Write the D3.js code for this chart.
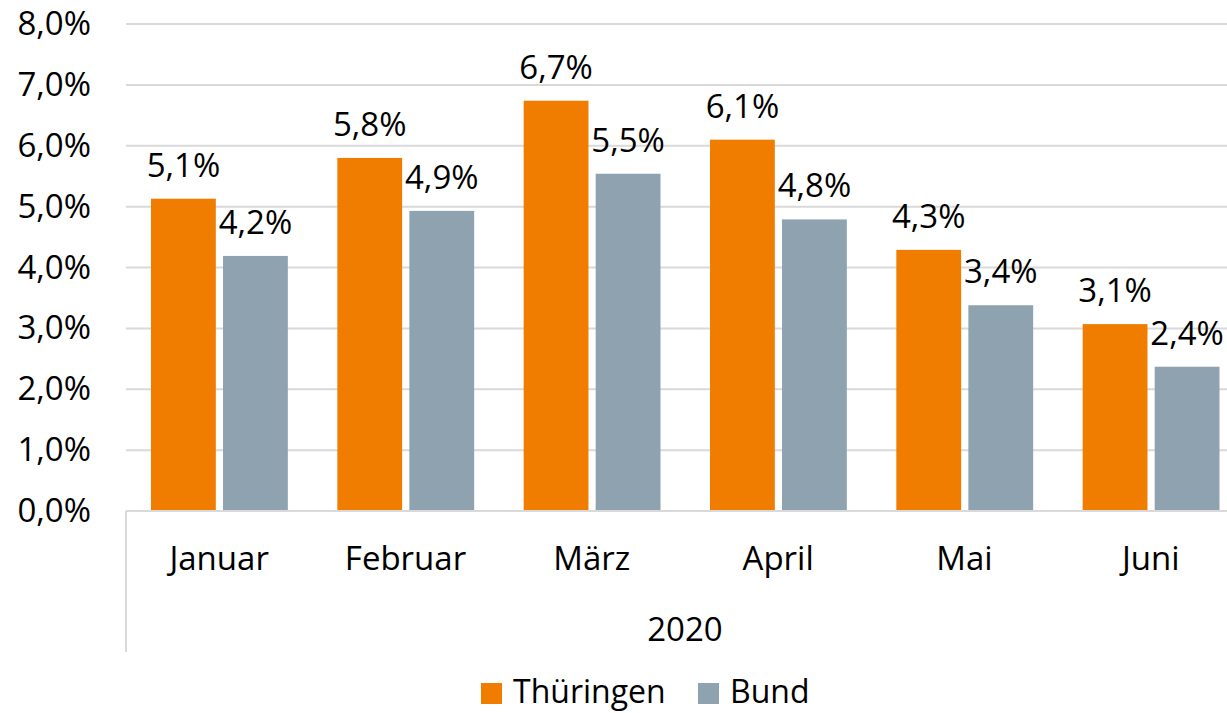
<!DOCTYPE html>
<html>
<head>
<meta charset="utf-8">
<script src="https://cdn.jsdelivr.net/npm/d3@7"></script>
<style>
  body { margin: 0; background: #fff; }
  text { font-family: "Open Sans", "Noto Sans", sans-serif; fill: #000; }
</style>
</head>
<body>
<div id="chart"></div>
<script>
// data
var months = ["Januar", "Februar", "März", "April", "Mai", "Juni"];
var seriesNames = ["Thüringen", "Bund"];
var thueringen = [5.13, 5.8, 6.74, 6.1, 4.29, 3.07];
var bund = [4.19, 4.93, 5.54, 4.79, 3.38, 2.37];
var yTicks = [0, 1, 2, 3, 4, 5, 6, 7, 8];
var yearLabel = "2020";

var colors = { "Thüringen": "#F07D00", "Bund": "#8EA3AF" };

var W = 1227, H = 713;
var margin = { left: 126, top: 24, right: -17, bottom: 202 };
var width = W - margin.left - margin.right,
    height = H - margin.top - margin.bottom;

var fmt = function(v) { return v.toFixed(1).replace(".", ",") + "%"; };

var svg = d3.select("#chart").append("svg")
    .attr("width", W)
    .attr("height", H);

var g = svg.append("g")
    .attr("transform", "translate(" + margin.left + "," + margin.top + ")");

var x0 = d3.scaleBand()
    .domain(months)
    .range([0, width])
    .paddingInner(0)
    .paddingOuter(0);

var x1 = d3.scaleBand()
    .domain(seriesNames)
    .range([25, x0.bandwidth() - 24.5])
    .paddingInner(0.1);

var y = d3.scaleLinear()
    .domain([0, 8])
    .range([height, 0]);

// gridlines
g.append("g")
  .selectAll("line")
  .data(yTicks.slice(1))
  .enter().append("line")
    .attr("x1", 0)
    .attr("x2", width)
    .attr("y1", function(d) { return y(d); })
    .attr("y2", function(d) { return y(d); })
    .attr("stroke", "#D9D9D9")
    .attr("stroke-width", 2);

// y axis labels
var yAxis = g.append("g")
    .call(d3.axisLeft(y).tickValues(yTicks).tickSize(0).tickPadding(35).tickFormat(fmt));
yAxis.select(".domain").remove();
yAxis.selectAll("text")
    .style("font-size", "33px")
    .style("font-family", "'Open Sans', sans-serif");

// build table
var table = months.map(function(m, i) {
  return { month: m, values: [ { key: "Thüringen", v: thueringen[i] }, { key: "Bund", v: bund[i] } ] };
});

var groups = g.selectAll(".grp")
  .data(table)
  .enter().append("g")
    .attr("class", "grp")
    .attr("transform", function(d) { return "translate(" + x0(d.month) + ",0)"; });

groups.selectAll("rect")
  .data(function(d) { return d.values; })
  .enter().append("rect")
    .attr("x", function(d) { return x1(d.key); })
    .attr("y", function(d) { return y(d.v); })
    .attr("width", x1.bandwidth())
    .attr("height", function(d) { return y(0) - y(d.v); })
    .attr("fill", function(d) { return colors[d.key]; });

groups.selectAll(".lbl")
  .data(function(d) { return d.values; })
  .enter().append("text")
    .attr("class", "lbl")
    .attr("x", function(d) { return x1(d.key) + x1.bandwidth() / 2; })
    .attr("y", function(d) { return y(d.v) - 22; })
    .attr("text-anchor", "middle")
    .style("font-size", "33px")
    .text(function(d) { return fmt(d.v); });

// x axis line + left border
g.append("line")
    .attr("x1", 0).attr("x2", width)
    .attr("y1", height).attr("y2", height)
    .attr("stroke", "#D9D9D9").attr("stroke-width", 2);
g.append("line")
    .attr("x1", 0).attr("x2", 0)
    .attr("y1", height).attr("y2", height + 141)
    .attr("stroke", "#D9D9D9").attr("stroke-width", 2);

// month labels
g.selectAll(".mlbl")
  .data(months)
  .enter().append("text")
    .attr("class", "mlbl")
    .attr("x", function(d) { return x0(d) + x0.bandwidth() / 2; })
    .attr("y", height + 59)
    .attr("text-anchor", "middle")
    .style("font-size", "33px")
    .text(function(d) { return d; });

g.append("text")
    .attr("x", width / 2)
    .attr("y", height + 130)
    .attr("text-anchor", "middle")
    .style("font-size", "33px")
    .text(yearLabel);

// legend
var legendX = [481, 698];
var legend = svg.append("g")
  .selectAll("g")
  .data(seriesNames)
  .enter().append("g")
    .attr("transform", function(d, i) { return "translate(" + legendX[i] + ",683)"; });

legend.append("rect")
    .attr("width", 21)
    .attr("height", 21)
    .attr("fill", function(d) { return colors[d]; });

legend.append("text")
    .attr("x", 32)
    .attr("y", 20)
    .style("font-size", "32px")
    .text(function(d) { return d; });
</script>
</body>
</html>
